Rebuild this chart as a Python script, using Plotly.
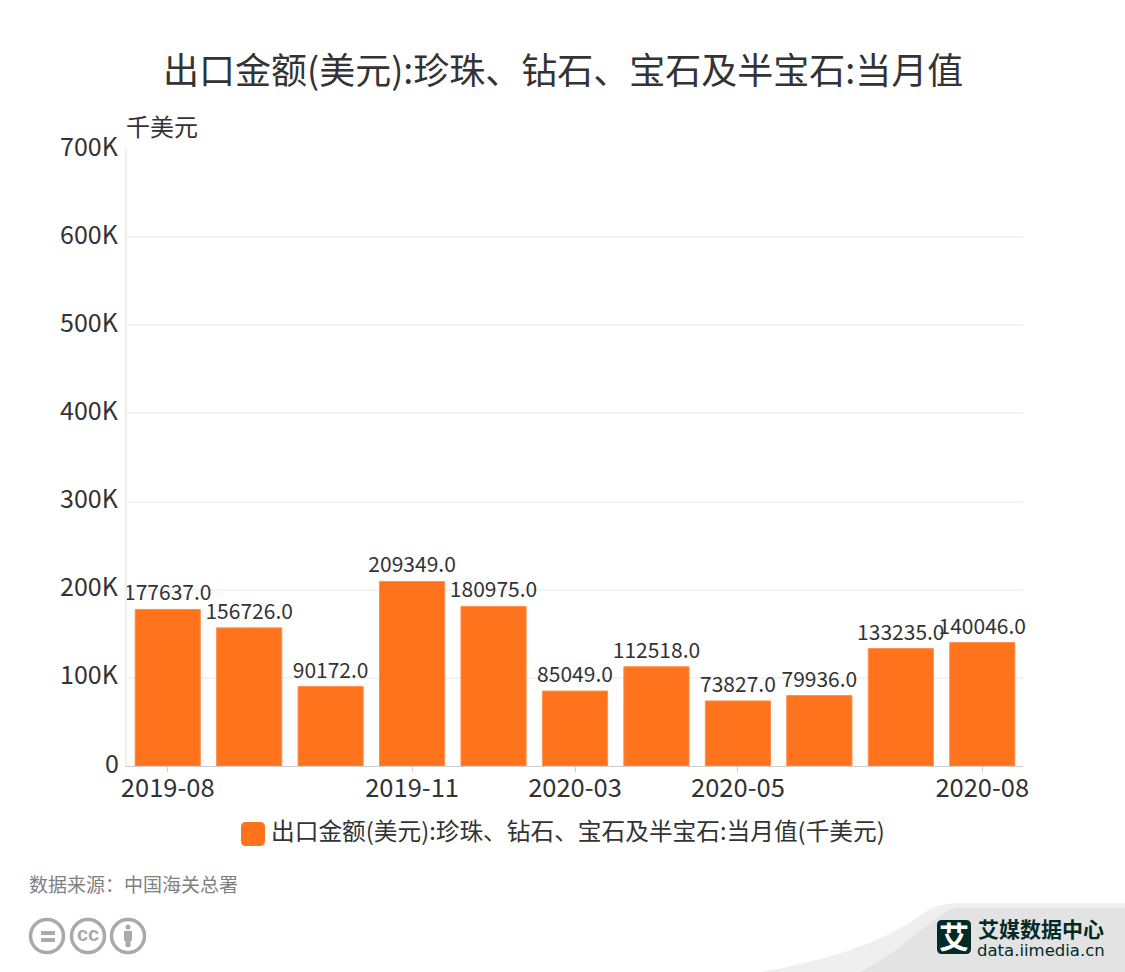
import plotly.graph_objects as go

months = ["2019-08", "2019-09", "2019-10", "2019-11", "2019-12", "2020-03",
          "2020-04", "2020-05", "2020-06", "2020-07", "2020-08"]
values = [177637.0, 156726.0, 90172.0, 209349.0, 180975.0, 85049.0,
          112518.0, 73827.0, 79936.0, 133235.0, 140046.0]
shown_months = ["2019-08", "2019-11", "2020-03", "2020-05", "2020-08"]
y_ticks = [0, 100000, 200000, 300000, 400000, 500000, 600000, 700000]
y_labels = ["0", "100K", "200K", "300K", "400K", "500K", "600K", "700K"]
title = "出口金额(美元):珍珠、钻石、宝石及半宝石:当月值"
series = "出口金额(美元):珍珠、钻石、宝石及半宝石:当月值(千美元)"
unit = "千美元"
source = "数据来源：中国海关总署"
brand = "艾媒数据中心"
site = "data.iimedia.cn"

W, H = 1125, 972
L, R, T, B = 127, 1023, 149, 766
FONT = "Noto Sans CJK SC"
ORANGE = "#FF731D"
TXT = "#333333"
GREY = "#AAAAAA"

def px(x): return (x - L) / (R - L)
def py(y): return (B - y) / (B - T)

def pth(d, fill=None, line=None, w=0):
    return dict(type="path", xref="paper", yref="paper", path=d, fillcolor=fill,
                line=dict(color=line, width=w) if line else dict(width=0), layer="above")

def P(*pts):
    out = []
    for p in pts:
        if isinstance(p, str):
            out.append(p)
        else:
            out.append(f"{px(p[0]):.5f},{py(p[1]):.5f}")
    return " ".join(out)

def circle(cx, cy, r, **k):
    return dict(type="circle", xref="paper", yref="paper", x0=px(cx-r), x1=px(cx+r),
                y0=py(cy+r), y1=py(cy-r), layer="above", **k)

def rect(x0, y0, x1, y1, color):
    return dict(type="rect", xref="paper", yref="paper", x0=px(x0), x1=px(x1),
                y0=py(y1), y1=py(y0), fillcolor=color, line=dict(width=0), layer="above")

def rrect(x0, y0, x1, y1, r, color):
    return pth(P("M", (x0+r, y0), "L", (x1-r, y0), "Q", (x1, y0), (x1, y0+r), "L", (x1, y1-r),
                 "Q", (x1, y1), (x1-r, y1), "L", (x0+r, y1), "Q", (x0, y1), (x0, y1-r),
                 "L", (x0, y0+r), "Q", (x0, y0), (x0+r, y0), "Z"), fill=color)

def note(x, y, text, size, color=TXT, anchor="center", family=FONT):
    return dict(xref="paper", yref="paper", x=px(x), y=py(y), text=text, showarrow=False,
                xanchor=anchor, yanchor="middle", font=dict(size=size, color=color, family=family))

fig = go.Figure(go.Bar(
    x=months, y=values, marker=dict(color=ORANGE, line=dict(width=1, color="#FF9050")),
    text=[f"{v:.1f}" for v in values], textposition="outside", cliponaxis=False,
    constraintext="none",
    textfont=dict(size=21, color=TXT, family=FONT), showlegend=False, width=0.8,
))

shapes = [
    pth(P("M", (760, 972), "C", (860, 955), (900, 930), (925, 912), "Q", (938, 903), (960, 903),
          "L", (1125, 903), "L", (1125, 972), "Z"), fill="#EFEFEF"),
    pth(P("M", (860, 972), "C", (895, 955), (925, 925), (945, 912), "Q", (950, 908), (965, 908),
          "L", (1125, 908), "L", (1125, 972), "Z"), fill="#E3E3E3"),
    rrect(937, 920, 971, 954, 5, "#022B27"),
    rrect(241, 822, 265, 846, 5, ORANGE),
    circle(47, 936, 16.5, line=dict(color=GREY, width=3.5), fillcolor="white"),
    circle(88, 936, 16.5, line=dict(color=GREY, width=3.5), fillcolor="white"),
    circle(128, 936, 16.5, line=dict(color=GREY, width=3.5), fillcolor="white"),
    rect(41, 931, 55, 935, GREY),
    rect(41, 938, 55, 942, GREY),
    circle(128, 927, 2.5, fillcolor=GREY, line=dict(width=0)),
    rect(124, 931, 132, 941, GREY),
    rect(125.5, 941, 130.5, 947, GREY),
]

annotations = [
    note(563, 68, title, 36),
    note(124, 125, unit, 24, anchor="left"),
    note(269, 830, series, 23.7, anchor="left"),
    note(27, 883, source, 19, color="#808080", anchor="left"),
    note(88, 934, "<b>cc</b>", 20, color=GREY, family="Liberation Sans"),
    note(954, 935, "<b>艾</b>", 30, color="white"),
    note(976, 928, f"<b>{brand}</b>", 21, color="#022B27", anchor="left"),
    note(975, 950, site, 16.5, color="#022B27", anchor="left", family="DejaVu Sans"),
]
# value-axis labels sit a little above their gridlines in the reference
for v, lab in zip(y_ticks, y_labels):
    annotations.append(dict(xref="paper", yref="y", x=px(118), y=v, text=lab, showarrow=False,
                            xanchor="right", yanchor="middle", yshift=4.5, xshift=3,
                            font=dict(size=25, color=TXT, family=FONT)))

fig.update_layout(
    width=W, height=H, autosize=False, paper_bgcolor="white", plot_bgcolor="white",
    margin=dict(l=L, r=W-R, t=T, b=H-B, pad=0),
    font=dict(family=FONT, color=TXT),
    shapes=shapes, annotations=annotations,
    xaxis=dict(type="category", categoryorder="array", categoryarray=months,
               range=[-0.5, 10.5], tickmode="array", tickvals=shown_months, ticktext=shown_months,
               ticks="outside", ticklen=5, tickcolor="#CCCCCC", tickfont=dict(size=25.5, color=TXT),
               ticklabelstandoff=-6,
               showgrid=False, showline=True, linecolor="#CCCCCC", linewidth=1, automargin=False),
    yaxis=dict(range=[0, 700000], tickmode="array", tickvals=y_ticks, showticklabels=False,
               ticks="", showgrid=True, gridcolor="#F2F3F5", gridwidth=2, zeroline=False,
               showline=True, linecolor="#EEEEEE", linewidth=2, automargin=False),
)

fig.write_html("out.html", config={"displayModeBar": False},
               post_script="document.body.style.margin='0';document.documentElement.style.overflow='hidden';")
